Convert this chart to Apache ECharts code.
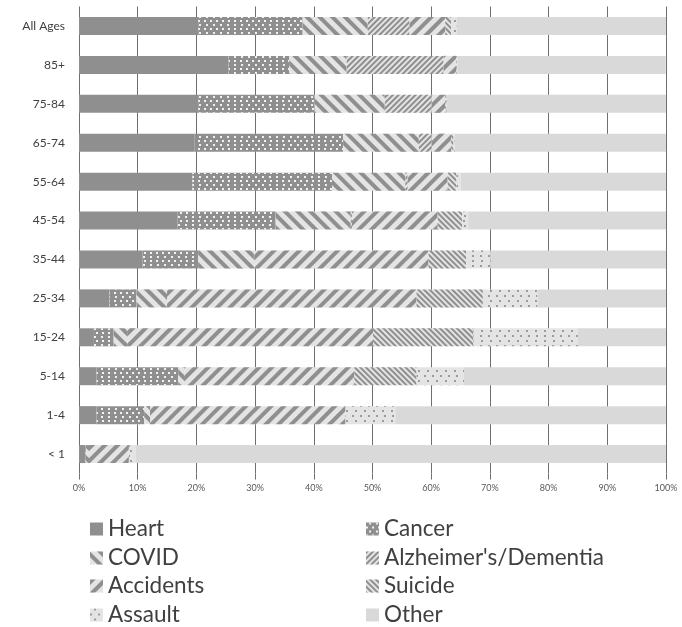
<!DOCTYPE html>
<html>
<head>
<meta charset="utf-8">
<script src="https://cdn.jsdelivr.net/npm/echarts@6/dist/echarts.min.js"></script>
<style>
html,body{margin:0;padding:0;background:#fff;}
#chart{width:682px;height:627px;}
</style>
</head>
<body>
<div id="chart"></div>
<script>
var categories = ['All Ages','85+','75-84','65-74','55-64','45-54','35-44','25-34','15-24','5-14','1-4','< 1'];
var heart     = [20.3,25.5,20.3,19.7,19.3,16.8,10.8, 5.2, 2.4, 3.0, 3.0, 1.1];
var cancer    = [17.8,10.3,19.8,25.3,23.8,16.7, 9.5, 4.6, 3.5,13.9, 8.1, 0.1];
var covid     = [11.1, 9.8,12.0,12.9,12.5,12.8, 9.5, 5.2, 2.3, 1.0, 1.0, 0.5];
var alzheimer = [ 7.1,16.5, 8.0, 2.2, 0.4, 0.2,0.05, 0, 0, 0, 0, 0];
var accidents = [ 6.1, 2.2, 2.3, 3.3, 6.8,14.6,29.7,42.5,41.9,29.0,33.3, 6.8];
var suicide   = [ 1.0, 0.1, 0.2, 0.4, 1.5, 4.2, 6.4,11.3,17.1,10.6, 0, 0];
var assault   = [ 0.9,0.05, 0.1, 0.2, 0.7, 1.0, 4.2, 9.3,17.8, 8.1, 8.6, 1.2];
var other     = [35.7,35.5,37.3,36.0,35.0,33.7,29.9,21.9,15.0,34.4,46.0,90.3];
var xTicks = [0,10,20,30,40,50,60,70,80,90,100];
var legendLeft  = ['Heart','COVID','Accidents','Assault'];
var legendRight = ['Cancer',"Alzheimer's/Dementia",'Suicide','Other'];

var DARK = '#8f8f8f', LIGHT = '#e4e4e4';
function stripes(w, gap, rot) {
  return {symbol:'rect', symbolSize:1, dashArrayX:[1,0], dashArrayY:[w,gap], rotation:rot, color:DARK};
}
var seriesDefs = [
  {name:'Heart', data:heart, color:DARK, decal:null},
  {name:'Cancer', data:cancer, color:DARK, decal:{symbol:'rect', symbolSize:1, dashArrayX:[[1.5,4],[0,2.75,1.5,1.25]], dashArrayY:[1.5,1.5], color:'#f2f2f2'}},
  {name:'COVID', data:covid, color:LIGHT, decal:stripes(3.5,4.5,Math.PI/4)},
  {name:"Alzheimer's/Dementia", data:alzheimer, color:LIGHT, decal:stripes(1.6,1.8,-Math.PI/4)},
  {name:'Accidents', data:accidents, color:LIGHT, decal:stripes(3.5,4.5,-Math.PI/4)},
  {name:'Suicide', data:suicide, color:LIGHT, decal:stripes(1.6,1.8,Math.PI/4)},
  {name:'Assault', data:assault, color:LIGHT, decal:{symbol:'rect', symbolSize:1, dashArrayX:[[1.5,6],[0,3.75,1.5,2.25]], dashArrayY:[1.5,2.5], color:'#9c9c9c'}},
  {name:'Other', data:other, color:'#d9d9d9', decal:null}
];

var chart = echarts.init(document.getElementById('chart'), null, {renderer:'canvas'});
var series = seriesDefs.map(function(s){
  var is = {color:s.color};
  if (s.decal) is.decal = s.decal;
  return {name:s.name, type:'bar', stack:'total', data:s.data, barWidth:18, itemStyle:is, emphasis:{disabled:true}, animation:false};
});
var legendText = {fontFamily:'Lato', fontSize:22.5, color:'#404040', lineHeight:24};
var rowCenters = [527, 556, 584, 613];
var legends = [];
legendLeft.forEach(function(n, i){
  legends.push({data:[n], left:85, top:rowCenters[i]-15, icon:'rect', itemWidth:13, itemHeight:13, textStyle:legendText, selectedMode:false});
});
legendRight.forEach(function(n, i){
  legends.push({data:[n], left:361, top:rowCenters[i]-15, icon:'rect', itemWidth:13, itemHeight:13, textStyle:legendText, selectedMode:false});
});
chart.setOption({
  animation:false,
  grid:{left:79, right:16, top:6.5, bottom:153.5, containLabel:false},
  xAxis:{type:'value', min:0, max:100, interval:10,
    axisLine:{show:false},
    axisTick:{show:true, length:6, lineStyle:{color:'#6f6f6f'}},
    splitLine:{show:true, lineStyle:{color:'#6f6f6f', width:1}},
    axisLabel:{formatter:function(v){return v+'%';}, fontFamily:'Lato', fontSize:9, color:'#595959', margin:10}
  },
  yAxis:{type:'category', data:categories, inverse:true,
    axisLine:{show:false}, axisTick:{show:false},
    axisLabel:{fontFamily:'Lato', fontSize:12, color:'#404040', margin:14}
  },
  legend:legends,
  series:series
});
</script>
</body>
</html>
